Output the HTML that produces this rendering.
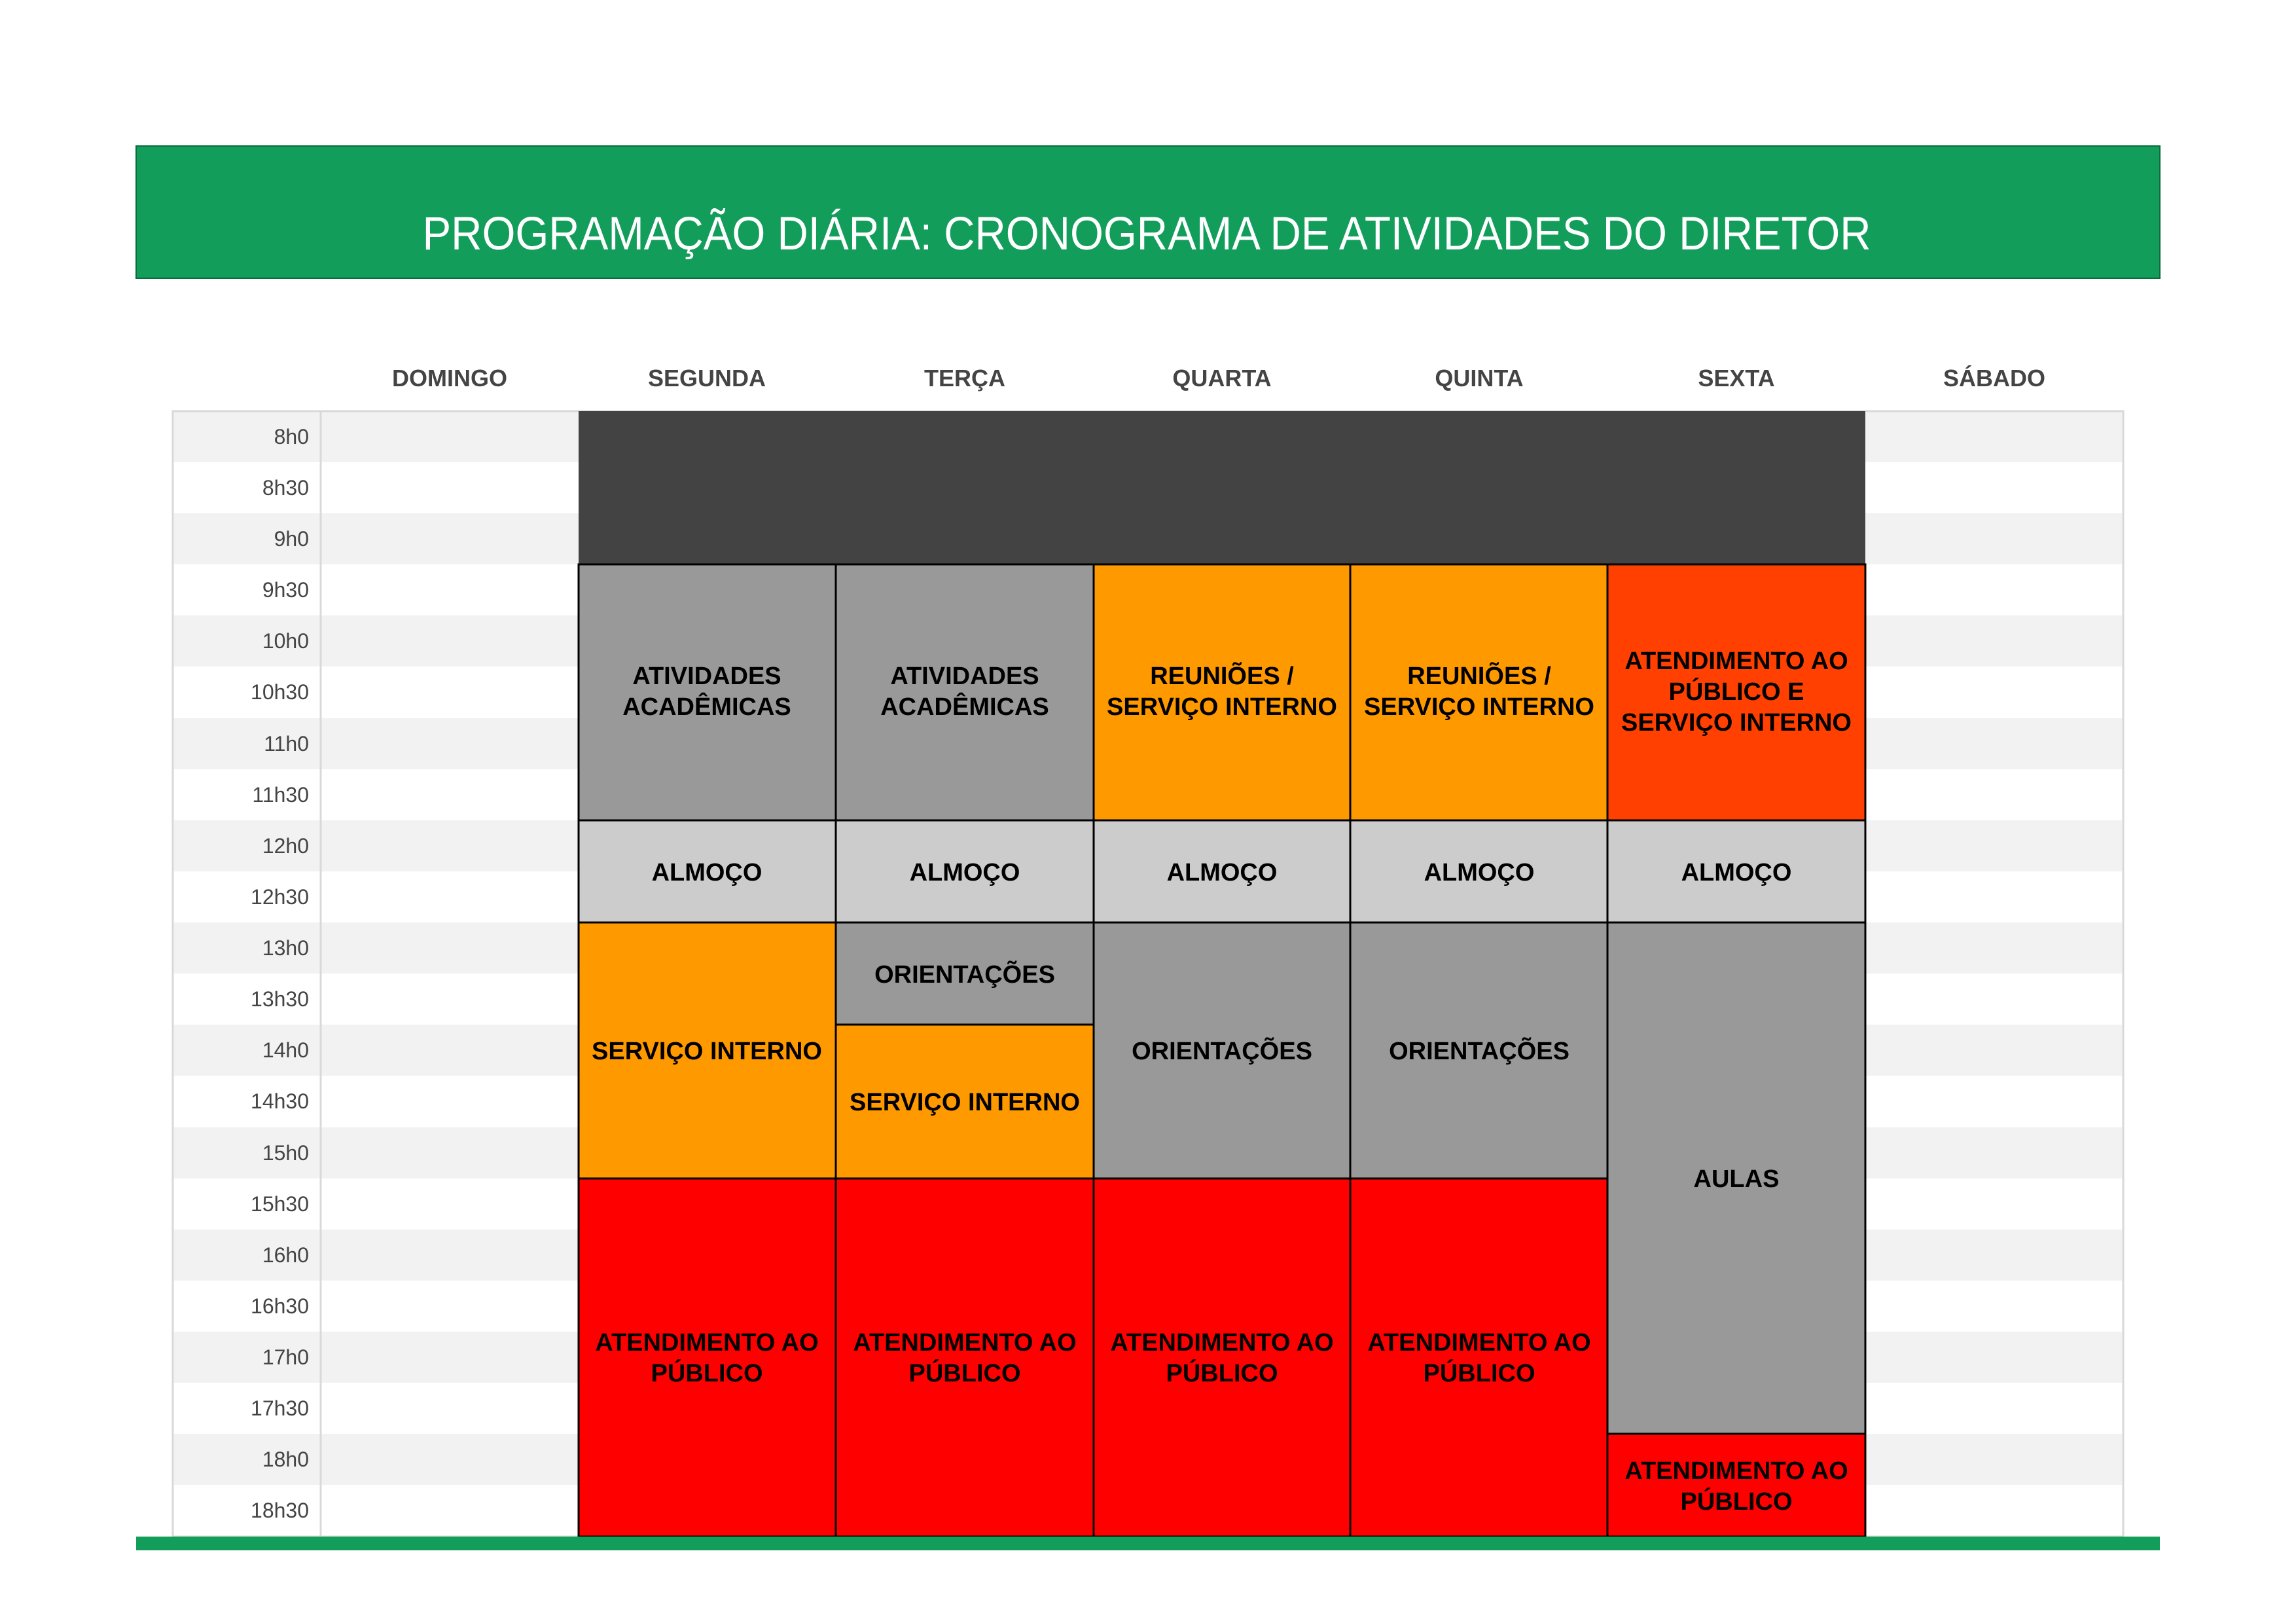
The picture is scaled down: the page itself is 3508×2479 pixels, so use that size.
<!DOCTYPE html>
<html><head><meta charset="utf-8"><style>html,body{margin:0;padding:0;background:#fff}svg{display:block}</style></head>
<body>
<svg width="3508" height="2479" viewBox="0 0 3508 2479" xmlns="http://www.w3.org/2000/svg" font-family="'Liberation Sans', sans-serif">
<rect x="0" y="0" width="3508" height="2479" fill="#fff"/>
<rect x="208" y="223" width="3092" height="202" fill="#129e5a" stroke="#0b6b3d" stroke-width="2"/>
<text x="1752" y="381" font-size="71" fill="#fff" text-anchor="middle" textLength="2213" lengthAdjust="spacingAndGlyphs">PROGRAMAÇÃO DIÁRIA: CRONOGRAMA DE ATIVIDADES DO DIRETOR</text>
<g font-size="36" font-weight="bold" fill="#444" text-anchor="middle">
<text x="687" y="590">DOMINGO</text><text x="1080" y="590">SEGUNDA</text><text x="1474" y="590">TERÇA</text><text x="1867" y="590">QUARTA</text><text x="2260" y="590">QUINTA</text><text x="2653" y="590">SEXTA</text><text x="3047" y="590">SÁBADO</text>
</g>
<g fill="#f2f2f2">
<rect x="264" y="628" width="2980" height="78"/><rect x="264" y="784" width="2980" height="78"/><rect x="264" y="940" width="2980" height="78"/><rect x="264" y="1097" width="2980" height="78"/><rect x="264" y="1253" width="2980" height="78"/><rect x="264" y="1409" width="2980" height="78"/><rect x="264" y="1565" width="2980" height="78"/><rect x="264" y="1722" width="2980" height="78"/><rect x="264" y="1878" width="2980" height="78"/><rect x="264" y="2034" width="2980" height="78"/><rect x="264" y="2190" width="2980" height="78"/>
</g>
<rect x="264" y="628" width="2980" height="1719" fill="none" stroke="#d9d9d9" stroke-width="3"/>
<line x1="490" y1="628" x2="490" y2="2347" stroke="#d9d9d9" stroke-width="3"/>
<g font-size="32" fill="#444" text-anchor="end">
<text x="472" y="678">8h0</text><text x="472" y="756">8h30</text><text x="472" y="834">9h0</text><text x="472" y="912">9h30</text><text x="472" y="990">10h0</text><text x="472" y="1068">10h30</text><text x="472" y="1147">11h0</text><text x="472" y="1225">11h30</text><text x="472" y="1303">12h0</text><text x="472" y="1381">12h30</text><text x="472" y="1459">13h0</text><text x="472" y="1537">13h30</text><text x="472" y="1615">14h0</text><text x="472" y="1693">14h30</text><text x="472" y="1772">15h0</text><text x="472" y="1850">15h30</text><text x="472" y="1928">16h0</text><text x="472" y="2006">16h30</text><text x="472" y="2084">17h0</text><text x="472" y="2162">17h30</text><text x="472" y="2240">18h0</text><text x="472" y="2318">18h30</text>
</g>
<g stroke="#000" stroke-width="3">
<rect x="884" y="628" width="1966" height="234" fill="#434343" stroke="none"/>
<!-- Segunda -->
<rect x="884" y="862" width="393" height="391" fill="#999"/>
<rect x="884" y="1253" width="393" height="156" fill="#ccc"/>
<rect x="884" y="1409" width="393" height="391" fill="#ff9900"/>
<rect x="884" y="1800" width="393" height="547" fill="#ff0000"/>
<!-- Terca -->
<rect x="1277" y="862" width="394" height="391" fill="#999"/>
<rect x="1277" y="1253" width="394" height="156" fill="#ccc"/>
<rect x="1277" y="1409" width="394" height="156" fill="#999"/>
<rect x="1277" y="1565" width="394" height="235" fill="#ff9900"/>
<rect x="1277" y="1800" width="394" height="547" fill="#ff0000"/>
<!-- Quarta -->
<rect x="1671" y="862" width="392" height="391" fill="#ff9900"/>
<rect x="1671" y="1253" width="392" height="156" fill="#ccc"/>
<rect x="1671" y="1409" width="392" height="391" fill="#999"/>
<rect x="1671" y="1800" width="392" height="547" fill="#ff0000"/>
<!-- Quinta -->
<rect x="2063" y="862" width="393" height="391" fill="#ff9900"/>
<rect x="2063" y="1253" width="393" height="156" fill="#ccc"/>
<rect x="2063" y="1409" width="393" height="391" fill="#999"/>
<rect x="2063" y="1800" width="393" height="547" fill="#ff0000"/>
<!-- Sexta -->
<rect x="2456" y="862" width="394" height="391" fill="#ff4000"/>
<rect x="2456" y="1253" width="394" height="156" fill="#ccc"/>
<rect x="2456" y="1409" width="394" height="781" fill="#999"/>
<rect x="2456" y="2190" width="394" height="157" fill="#ff0000"/>
</g>
<g font-size="38" font-weight="bold" fill="#000" text-anchor="middle">
<text x="1080" y="1045">ATIVIDADES</text><text x="1080" y="1092">ACADÊMICAS</text>
<text x="1474" y="1045">ATIVIDADES</text><text x="1474" y="1092">ACADÊMICAS</text>
<text x="1867" y="1045">REUNIÕES /</text><text x="1867" y="1092">SERVIÇO INTERNO</text>
<text x="2260" y="1045">REUNIÕES /</text><text x="2260" y="1092">SERVIÇO INTERNO</text>
<text x="2653" y="1022">ATENDIMENTO AO</text><text x="2653" y="1069">PÚBLICO E</text><text x="2653" y="1116">SERVIÇO INTERNO</text>
<text x="1080" y="1345">ALMOÇO</text><text x="1474" y="1345">ALMOÇO</text><text x="1867" y="1345">ALMOÇO</text><text x="2260" y="1345">ALMOÇO</text><text x="2653" y="1345">ALMOÇO</text>
<text x="1080" y="1618">SERVIÇO INTERNO</text>
<text x="1474" y="1501">ORIENTAÇÕES</text>
<text x="1474" y="1696">SERVIÇO INTERNO</text>
<text x="1867" y="1618">ORIENTAÇÕES</text>
<text x="2260" y="1618">ORIENTAÇÕES</text>
<text x="2653" y="1813">AULAS</text>
<text x="1080" y="2063">ATENDIMENTO AO</text><text x="1080" y="2110">PÚBLICO</text>
<text x="1474" y="2063">ATENDIMENTO AO</text><text x="1474" y="2110">PÚBLICO</text>
<text x="1867" y="2063">ATENDIMENTO AO</text><text x="1867" y="2110">PÚBLICO</text>
<text x="2260" y="2063">ATENDIMENTO AO</text><text x="2260" y="2110">PÚBLICO</text>
<text x="2653" y="2259">ATENDIMENTO AO</text><text x="2653" y="2306">PÚBLICO</text>
</g>
<rect x="208" y="2347" width="3092" height="21" fill="#129e5a"/>
</svg>
</body></html>
